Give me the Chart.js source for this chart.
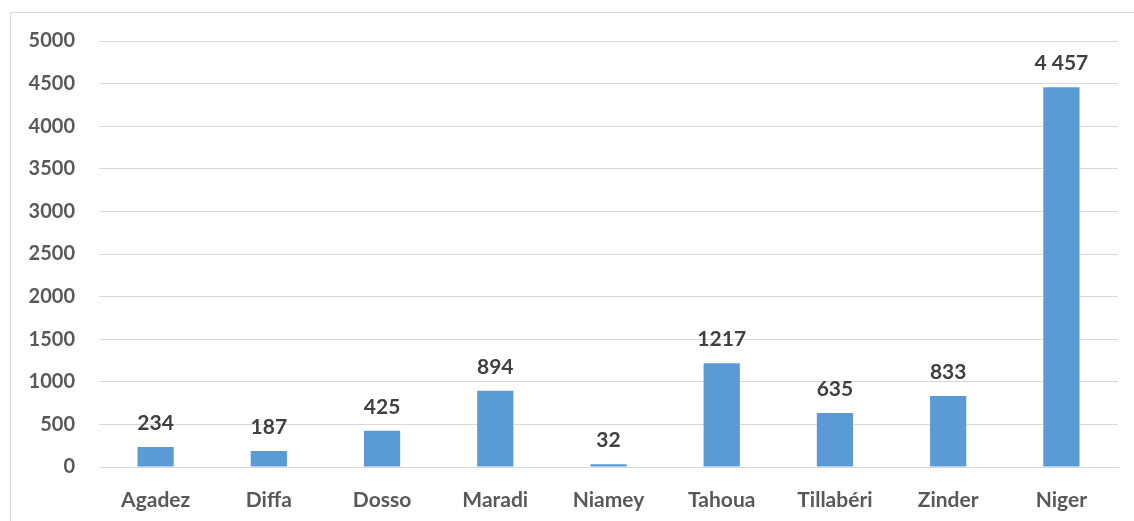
<!DOCTYPE html>
<html>
<head>
<meta charset="utf-8">
<script src="https://cdn.jsdelivr.net/npm/chart.js@4/dist/chart.umd.min.js"></script>
<style>
  body { margin: 0; background: #fff; overflow: hidden; }
  #frame { position: absolute; left: 10px; top: 12px; width: 1200px; height: 600px; border: 1px solid #d9d9d9; }
  #wrap { position: absolute; left: 0; top: 0; width: 1134px; height: 521px; }
</style>
</head>
<body>
<div id="frame"></div>
<div id="wrap"><canvas id="regions-chart"></canvas></div>
<script>
// Régions du Niger
const regions = ['Agadez', 'Diffa', 'Dosso', 'Maradi', 'Niamey', 'Tahoua', 'Tillabéri', 'Zinder', 'Niger'];
const valeurs = [234, 187, 425, 894, 32, 1217, 635, 833, 4457];
const etiquettes = ['234', '187', '425', '894', '32', '1217', '635', '833', '4 457'];

// petites étiquettes au-dessus des barres
const labelsPlugin = {
  id: 'barLabels',
  afterDatasetsDraw(chart) {
    const ctx = chart.ctx;
    const meta = chart.getDatasetMeta(0);
    ctx.save();
    ctx.font = 'bold 21px Lato';
    ctx.fillStyle = '#404040';
    ctx.textAlign = 'center';
    ctx.textBaseline = 'alphabetic';
    meta.data.forEach((bar, i) => {
      ctx.fillText(etiquettes[i], bar.x, bar.y - 17);
    });
    ctx.restore();
  }
};

const ctx = document.getElementById('regions-chart').getContext('2d');
new Chart(ctx, {
  type: 'bar',
  data: {
    labels: regions,
    datasets: [{
      data: valeurs,
      backgroundColor: '#5B9BD5',
      borderWidth: 0,
      barPercentage: 1,
      categoryPercentage: 0.32
    }]
  },
  options: {
    responsive: true,
    maintainAspectRatio: false,
    animation: false,
    layout: { padding: { top: 41, right: 16, bottom: 0, left: 0 } },
    plugins: {
      legend: { display: false },
      tooltip: { enabled: false }
    },
    scales: {
      x: {
        grid: { display: false },
        border: { color: '#d9d9d9', width: 1 },
        ticks: { color: '#595959', font: { family: 'Lato', size: 21, weight: 'bold' }, padding: 13, maxRotation: 0 },
        afterFit: (scale) => { scale.height = 54; }
      },
      y: {
        min: 0,
        max: 5000,
        grid: { color: '#d9d9d9', lineWidth: 1, drawTicks: false },
        border: { display: false },
        ticks: {
          stepSize: 500,
          color: '#595959',
          font: { family: 'Lato', size: 20, weight: 'bold' },
          padding: 24,
          callback: (v) => String(v)
        },
        afterFit: (scale) => { scale.width = 99; }
      }
    }
  },
  plugins: [labelsPlugin]
});
</script>
</body>
</html>
